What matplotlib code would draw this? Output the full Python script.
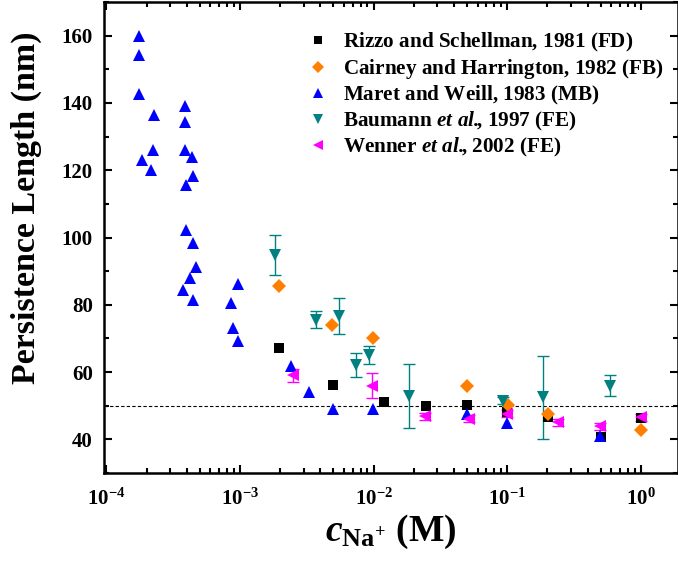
import matplotlib
matplotlib.use("Agg")
import matplotlib.pyplot as plt
from matplotlib.ticker import MultipleLocator, LogLocator

plt.rcParams['font.family'] = ['Liberation Serif', 'DejaVu Serif']
plt.rcParams['font.weight'] = 'bold'
plt.rcParams['mathtext.fontset'] = 'custom'
plt.rcParams['mathtext.rm'] = 'Liberation Serif:bold'
plt.rcParams['mathtext.bf'] = 'Liberation Serif:bold'
plt.rcParams['mathtext.it'] = 'Liberation Serif:italic:bold'
plt.rcParams['mathtext.bfit'] = 'Liberation Serif:italic:bold'
plt.rcParams['mathtext.default'] = 'bf'

# Rizzo and Schellman, 1981 (FD)
rizzo_c = [1.97e-3, 4.94e-3, 0.012, 0.0249, 0.0498, 0.099, 0.201, 0.5, 1.0]
rizzo_lp = [67.2, 56.3, 51.1, 49.9, 50.1, 48.1, 46.6, 40.7, 46.4]

# Cairney and Harrington, 1982 (FB)
cairney_c = [1.97e-3, 4.9e-3, 0.00996, 0.0498, 0.102, 0.201, 1.0]
cairney_lp = [85.6, 73.9, 70.0, 56.0, 50.1, 47.6, 42.8]

# Maret and Weill, 1983 (MB)
maret_c = [1.76e-4, 1.76e-4, 1.76e-4, 2.29e-4, 3.87e-4, 3.87e-4, 2.24e-4, 1.84e-4,
           2.15e-4, 3.87e-4, 4.35e-4, 4.43e-4, 3.94e-4, 3.94e-4, 4.47e-4, 4.66e-4,
           4.22e-4, 3.77e-4, 4.47e-4, 9.7e-4, 8.57e-4, 8.82e-4, 9.7e-4,
           2.41e-3, 3.28e-3, 4.94e-3, 9.84e-3, 0.0498, 0.099, 0.498]
maret_lp = [160.0, 154.2, 142.8, 136.3, 139.1, 134.4, 126.0, 123.1,
            120.2, 126.0, 124.0, 118.2, 115.5, 102.3, 98.5, 91.1,
            87.9, 84.4, 81.4, 86.1, 80.6, 73.0, 69.3,
            61.7, 54.1, 49.1, 49.1, 47.6, 44.9, 41.0]

# Baumann et al., 1997 (FE)
baumann_c = [1.83e-3, 3.69e-3, 5.5e-3, 7.38e-3, 9.24e-3, 0.0185, 0.0935, 0.186, 0.588]
baumann_lp = [94.8, 75.6, 76.6, 62.2, 65.1, 52.8, 51.5, 52.5, 55.9]
baumann_err = [6.0, 2.5, 5.3, 3.6, 2.6, 9.5, 1.0, 12.3, 3.1]

# Wenner et al., 2002 (FE)
wenner_c = [2.51e-3, 9.7e-3, 0.0243, 0.0516, 0.099, 0.241, 0.495, 1.0]
wenner_lp = [59.0, 56.0, 46.9, 46.1, 47.6, 45.1, 43.9, 46.6]
wenner_err = [1.9, 3.8, 1.0, 1.0, 1.0, 1.0, 1.0, 1.0]

# every label goes through mathtext so the legend rows get the same height
labels = [r'Rizzo and Schellman, 1981 (FD)$\!$',
          r'Cairney and Harrington, 1982 (FB)$\!$',
          r'Maret and Weill, 1983 (MB)$\!$',
          r'Baumann $\mathbfit{et\ al.}\!\!$, 1997 (FE)',
          r'Wenner $\mathbfit{et\ al.}\!\!$, 2002 (FE)']

fig = plt.figure(figsize=(6.78, 5.61), dpi=100)
ax = fig.add_axes([104 / 678, 88 / 561, 574 / 678, 471 / 561])

ax.axhline(50, color='black', ls='--', lw=0.8, dashes=(3, 2), zorder=1)

teal = '#008080'
magenta = '#FF00FF'
ax.errorbar(baumann_c, baumann_lp, yerr=baumann_err, fmt='none', ecolor=teal,
            elinewidth=1, capsize=4, capthick=1, zorder=2)
ax.errorbar(wenner_c, wenner_lp, yerr=wenner_err, fmt='none', ecolor=magenta,
            elinewidth=1, capsize=4, capthick=1, zorder=2)

h1, = ax.plot(rizzo_c, rizzo_lp, 's', color='black', ms=7, mew=0, label=labels[0], zorder=3)
h2, = ax.plot(cairney_c, cairney_lp, 'D', color='#FF8000', ms=7, mew=0, label=labels[1], zorder=3)
h3, = ax.plot(maret_c, maret_lp, '^', color='#0000FF', ms=9, mew=0, label=labels[2], zorder=3)
h4, = ax.plot(baumann_c, baumann_lp, 'v', color=teal, ms=9, mew=0, label=labels[3], zorder=3)
h5, = ax.plot(wenner_c, wenner_lp, '<', color=magenta, ms=9, mew=0, label=labels[4], zorder=3)

ax.set_xscale('log')
ax.set_xlim(9.6e-5, 1.9)
ax.set_ylim(30, 170)
ax.yaxis.set_major_locator(MultipleLocator(20))
ax.yaxis.set_minor_locator(MultipleLocator(10))
ax.xaxis.set_major_locator(LogLocator(base=10, numticks=10))
ax.xaxis.set_minor_locator(LogLocator(base=10, subs=range(2, 10), numticks=20))
ax.set_yticks([40, 60, 80, 100, 120, 140, 160])

ax.tick_params(which='both', direction='in', top=True, right=True, width=1.5)
ax.tick_params(which='major', length=6, labelsize=15, pad=8)
ax.tick_params(axis='x', which='major', pad=11)
ax.tick_params(which='minor', length=3.5)
for s in ax.spines.values():
    s.set_linewidth(1.8)

ax.set_ylabel('Persistence Length (nm)', fontsize=24.5, fontweight='bold')
ax.yaxis.set_label_coords(-0.108, 0.563)
ax.set_xlabel(r'$\mathbfit{c}_{\mathbf{Na}^{+}}$ (M)', fontsize=27, fontweight='bold', labelpad=2)

ax.legend(handles=[h1, h2, h3, h4, h5], loc='upper left',
          bbox_to_anchor=((307 - 104) / 574, (473 - 31) / 471),
          frameon=False, fontsize=15.2, handlelength=1.0, handletextpad=0.7,
          labelspacing=0.14, borderpad=0, borderaxespad=0, markerscale=0.85)

fig.savefig('out.png', dpi=100)
